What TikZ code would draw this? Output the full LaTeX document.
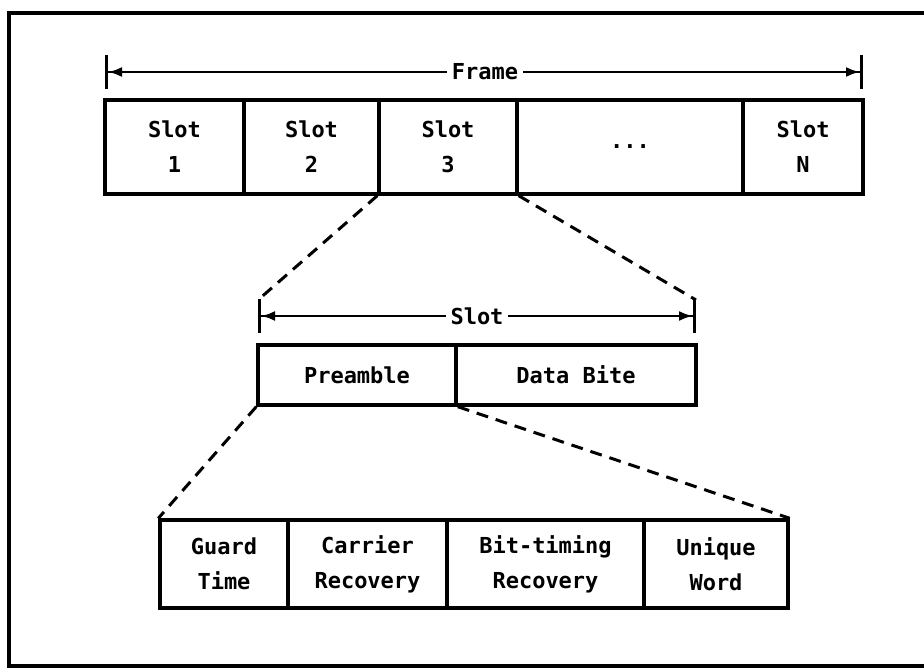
\documentclass[tikz,border=0pt]{standalone}
\usepackage{fontspec}
\setmainfont{DejaVu Sans Mono}
\usetikzlibrary{arrows.meta}
\tikzset{
  cell/.style={draw, line width=3.4pt, inner sep=0pt, align=center, font=\bfseries\fontsize{22}{35}\selectfont},
  dim/.style={line width=2.6pt, {Bar[width=34pt,line width=3pt]Latex[length=14pt,width=10pt]}-{Latex[length=14pt,width=10pt]Bar[width=34pt,line width=3pt]}},
  dimlabel/.style={fill=white, inner xsep=5pt, inner ysep=2pt, font=\bfseries\fontsize{22}{24}\selectfont},
  zoomline/.style={line width=3pt, dash pattern=on 12pt off 8pt}
}
\begin{document}
\begin{tikzpicture}[x=1pt,y=-1pt]
\useasboundingbox (0,0) rectangle (924,668);
\draw[line width=3.4pt] (924,13) -- (9,13) -- (9,666) -- (924,666);
% frame dimension
\coordinate (fL) at (105,72);
\coordinate (fR) at (863,72);
\draw[dim] (fL) -- (fR);
\node[dimlabel] (flab) at (485,72) {Frame};
% top slots
\node[cell, minimum width=139pt, minimum height=94pt] (s1) at (174.5,147) {Slot\\1};
\node[cell, minimum width=135pt, minimum height=94pt] (s2) at (311.5,147) {Slot\\2};
\node[cell, minimum width=138pt, minimum height=94pt] (s3) at (448,147) {Slot\\3};
\node[cell, minimum width=226pt, minimum height=94pt] (sd) at (630,147) {...};
\node[cell, minimum width=120pt, minimum height=94pt] (sn) at (803,147) {Slot\\N};
% slot dimension
\coordinate (sL) at (258,316);
\coordinate (sR) at (696,316);
\coordinate (sLt) at (258,300);
\coordinate (sRt) at (696,300);
\draw[dim] (sL) -- (sR);
\node[dimlabel] (slab) at (477,316) {Slot};
\draw[zoomline] (s3.south west) -- (sLt);
\draw[zoomline] (s3.south east) -- (sRt);
% middle boxes
\node[cell, minimum width=198pt, minimum height=60pt] (pre) at (357,375) {Preamble};
\node[cell, minimum width=240pt, minimum height=60pt] (data) at (576,375) {Data Bite};
% bottom boxes
\node[cell, minimum width=128pt, minimum height=88pt] (gt) at (224,564) {Guard\\Time};
\node[cell, minimum width=159pt, minimum height=88pt] (cr) at (367.5,564) {Carrier\\Recovery};
\node[cell, minimum width=197pt, minimum height=88pt] (bt) at (545.5,564) {Bit-timing\\Recovery};
\node[cell, minimum width=144pt, minimum height=88pt] (uw) at (716,564) {Unique\\Word};
\draw[zoomline] (pre.south west) -- (gt.north west);
\draw[zoomline] (pre.south east) -- (uw.north east);
\end{tikzpicture}
\end{document}
